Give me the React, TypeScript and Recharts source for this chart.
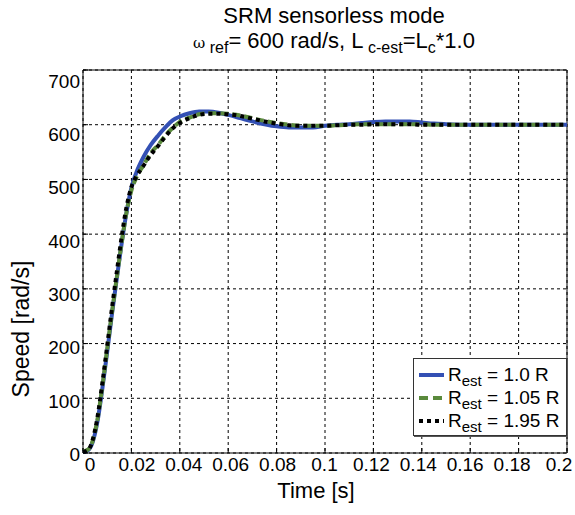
import React from 'react';
import {
  LineChart,
  Line,
  XAxis,
  YAxis,
  CartesianGrid,
  ReferenceArea
} from 'recharts';

// time axis [s]
const time = [
  0, 0.002, 0.004, 0.006, 0.008, 0.01, 0.012, 0.014, 0.016, 0.018, 0.02, 0.022,
  0.025, 0.028, 0.031, 0.034, 0.037, 0.04, 0.044, 0.048, 0.052, 0.056, 0.06,
  0.065, 0.07, 0.075, 0.08, 0.085, 0.09, 0.095, 0.1, 0.105, 0.11, 0.115, 0.12,
  0.125, 0.13, 0.135, 0.14, 0.145, 0.15, 0.16, 0.17, 0.18, 0.19, 0.2
];

// speed [rad/s] for R_est = 1.0 R
const speedR100 = [
  2, 5, 20, 58, 118, 185, 255, 320, 384, 440, 485, 512,
  541, 563, 580, 595, 608, 615, 621, 624, 624, 622, 618,
  612, 606, 601, 597, 595, 595, 595, 598, 600, 601, 603, 605,
  606, 606, 606, 604, 602, 601, 600, 600, 600, 600, 600
];

// speed [rad/s] for R_est = 1.05 R
const speedR105 = [
  3, 6, 22, 62, 122, 190, 258, 322, 385, 440, 480, 503,
  526, 548, 563, 580, 594, 605, 613, 619, 621, 621, 620,
  617, 612, 607, 603, 600, 598, 598, 598, 599, 600, 601, 601,
  601, 601, 601, 601, 600, 600, 600, 600, 600, 600, 600
];

// speed [rad/s] for R_est = 1.95 R
const speedR195 = [
  2, 5, 24, 66, 128, 196, 266, 332, 396, 450, 486, 505,
  525, 545, 561, 578, 593, 603, 612, 618, 620, 620, 619,
  616, 611, 606, 602, 599, 598, 598, 598, 599, 600, 600, 601,
  601, 601, 601, 600, 600, 600, 600, 600, 600, 600, 600
];

const xTicks = [0, 0.02, 0.04, 0.06, 0.08, 0.1, 0.12, 0.14, 0.16, 0.18, 0.2];
const xTickLabels = ['0', '0.02', '0.04', '0.06', '0.08', '0.1', '0.12', '0.14', '0.16', '0.18', '0.2'];
const yTicks = [0, 100, 200, 300, 400, 500, 600, 700];

const data = time.map((t, i) => ({
  t,
  r100: speedR100[i],
  r105: speedR105[i],
  r195: speedR195[i]
}));

const FONT = '"Liberation Sans", Arial, Helvetica, sans-serif';
const BLUE = '#3350b4';
const GREEN = '#5a8a3c';

// labels in the original are packed a little tighter than the ticks
const XTick = (props: any) => {
  const { x, y, payload, index } = props;
  const dx = 7 - 1.5 * index;
  return (
    <g>
      <line x1={x} y1={y} x2={x} y2={y - 5} stroke="#000" strokeWidth={1} />
      <text x={x + dx} y={y + 18} textAnchor="middle" fontSize={19} fontFamily={FONT} fill="#000">
        {xTickLabels[index] ?? String(payload.value)}
      </text>
    </g>
  );
};

const YTick = (props: any) => {
  const { x, y, payload, index } = props;
  const dy = 1 + 1.4 * index;
  return (
    <g>
      <line x1={x} y1={y} x2={x + 5} y2={y} stroke="#000" strokeWidth={1} />
      <text x={x - 3} y={y + dy + 7} textAnchor="end" fontSize={19} fontFamily={FONT} fill="#000">
        {payload.value}
      </text>
    </g>
  );
};

const sub = { fontSize: 16, position: 'relative' as const, top: 5 };

const legendRows = [
  { label: '1.0 R', color: BLUE, dash: undefined as string | undefined },
  { label: '1.05 R', color: GREEN, dash: '9 5' },
  { label: '1.95 R', color: '#000', dash: '4 4' }
];

export default function App() {
  return (
    <div
      style={{
        position: 'absolute',
        left: 0,
        top: 0,
        width: 575,
        height: 515,
        background: '#fff',
        fontFamily: FONT,
        color: '#000'
      }}
    >
      <LineChart
        width={575}
        height={515}
        data={data}
        margin={{ top: 70, right: 8, bottom: 32, left: 0 }}
      >
        <CartesianGrid stroke="#000" strokeDasharray="3 3" strokeWidth={1} />
        <XAxis
          dataKey="t"
          type="number"
          domain={[0, 0.2]}
          ticks={xTicks}
          axisLine={false}
          tickLine={false}
          tickSize={0}
          tickMargin={0}
          height={30}
          tick={<XTick />}
          interval={0}
        />
        <YAxis
          type="number"
          domain={[0, 700]}
          ticks={yTicks}
          axisLine={false}
          tickLine={false}
          tickSize={0}
          tickMargin={0}
          width={83}
          tick={<YTick />}
          interval={0}
        />
        <ReferenceArea x1={0} x2={0.2} y1={0} y2={700} fill="none" stroke="#000" strokeWidth={1} />
        <Line
          type="monotone"
          dataKey="r100"
          stroke={BLUE}
          strokeWidth={4}
          dot={false}
          isAnimationActive={false}
        />
        <Line
          type="monotone"
          dataKey="r105"
          stroke={GREEN}
          strokeWidth={4}
          strokeDasharray="8 4"
          dot={false}
          isAnimationActive={false}
        />
        <Line
          type="monotone"
          dataKey="r195"
          stroke="#000"
          strokeWidth={4}
          strokeDasharray="4 4"
          dot={false}
          isAnimationActive={false}
        />
      </LineChart>

      {/* title */}
      <div
        style={{
          position: 'absolute',
          left: 134,
          width: 400,
          top: 3,
          textAlign: 'center',
          fontSize: 22,
          lineHeight: '25px',
          whiteSpace: 'nowrap'
        }}
      >
        <div>SRM sensorless mode</div>
        <div>
          <span style={{ fontSize: 15, fontFamily: '"DejaVu Serif", serif' }}>ω</span>
          <span style={sub}> ref</span>= 600 rad/s, L<span style={sub}> c-est</span>=L<span style={sub}>c</span>*1.0
        </div>
      </div>

      {/* y label */}
      <div
        style={{
          position: 'absolute',
          left: 21,
          top: 329,
          fontSize: 23,
          whiteSpace: 'nowrap',
          transform: 'translate(-50%, -50%) rotate(-90deg)'
        }}
      >
        Speed [rad/s]
      </div>

      {/* x label */}
      <div
        style={{
          position: 'absolute',
          left: 316,
          top: 478,
          fontSize: 22,
          whiteSpace: 'nowrap',
          transform: 'translateX(-50%)'
        }}
      >
        Time [s]
      </div>

      {/* legend */}
      <div
        style={{
          position: 'absolute',
          left: 413,
          top: 358,
          width: 152,
          height: 76,
          border: '1px solid #333',
          background: '#fff',
          boxShadow: '1px 1px 0 #555'
        }}
      >
        {legendRows.map((row, i) => (
          <div
            key={row.label}
            style={{
              position: 'absolute',
              left: 4,
              top: 5 + i * 23,
              height: 22,
              display: 'flex',
              alignItems: 'center',
              whiteSpace: 'nowrap',
              fontSize: 19
            }}
          >
            <svg width={27} height={10} style={{ marginRight: 3 }}>
              <line
                x1={1}
                y1={5}
                x2={26}
                y2={5}
                stroke={row.color}
                strokeWidth={4}
                strokeDasharray={row.dash}
              />
            </svg>
            <span>
              R<span style={{ fontSize: 15, position: 'relative', top: 5 }}>est</span> = {row.label}
            </span>
          </div>
        ))}
      </div>
    </div>
  );
}
